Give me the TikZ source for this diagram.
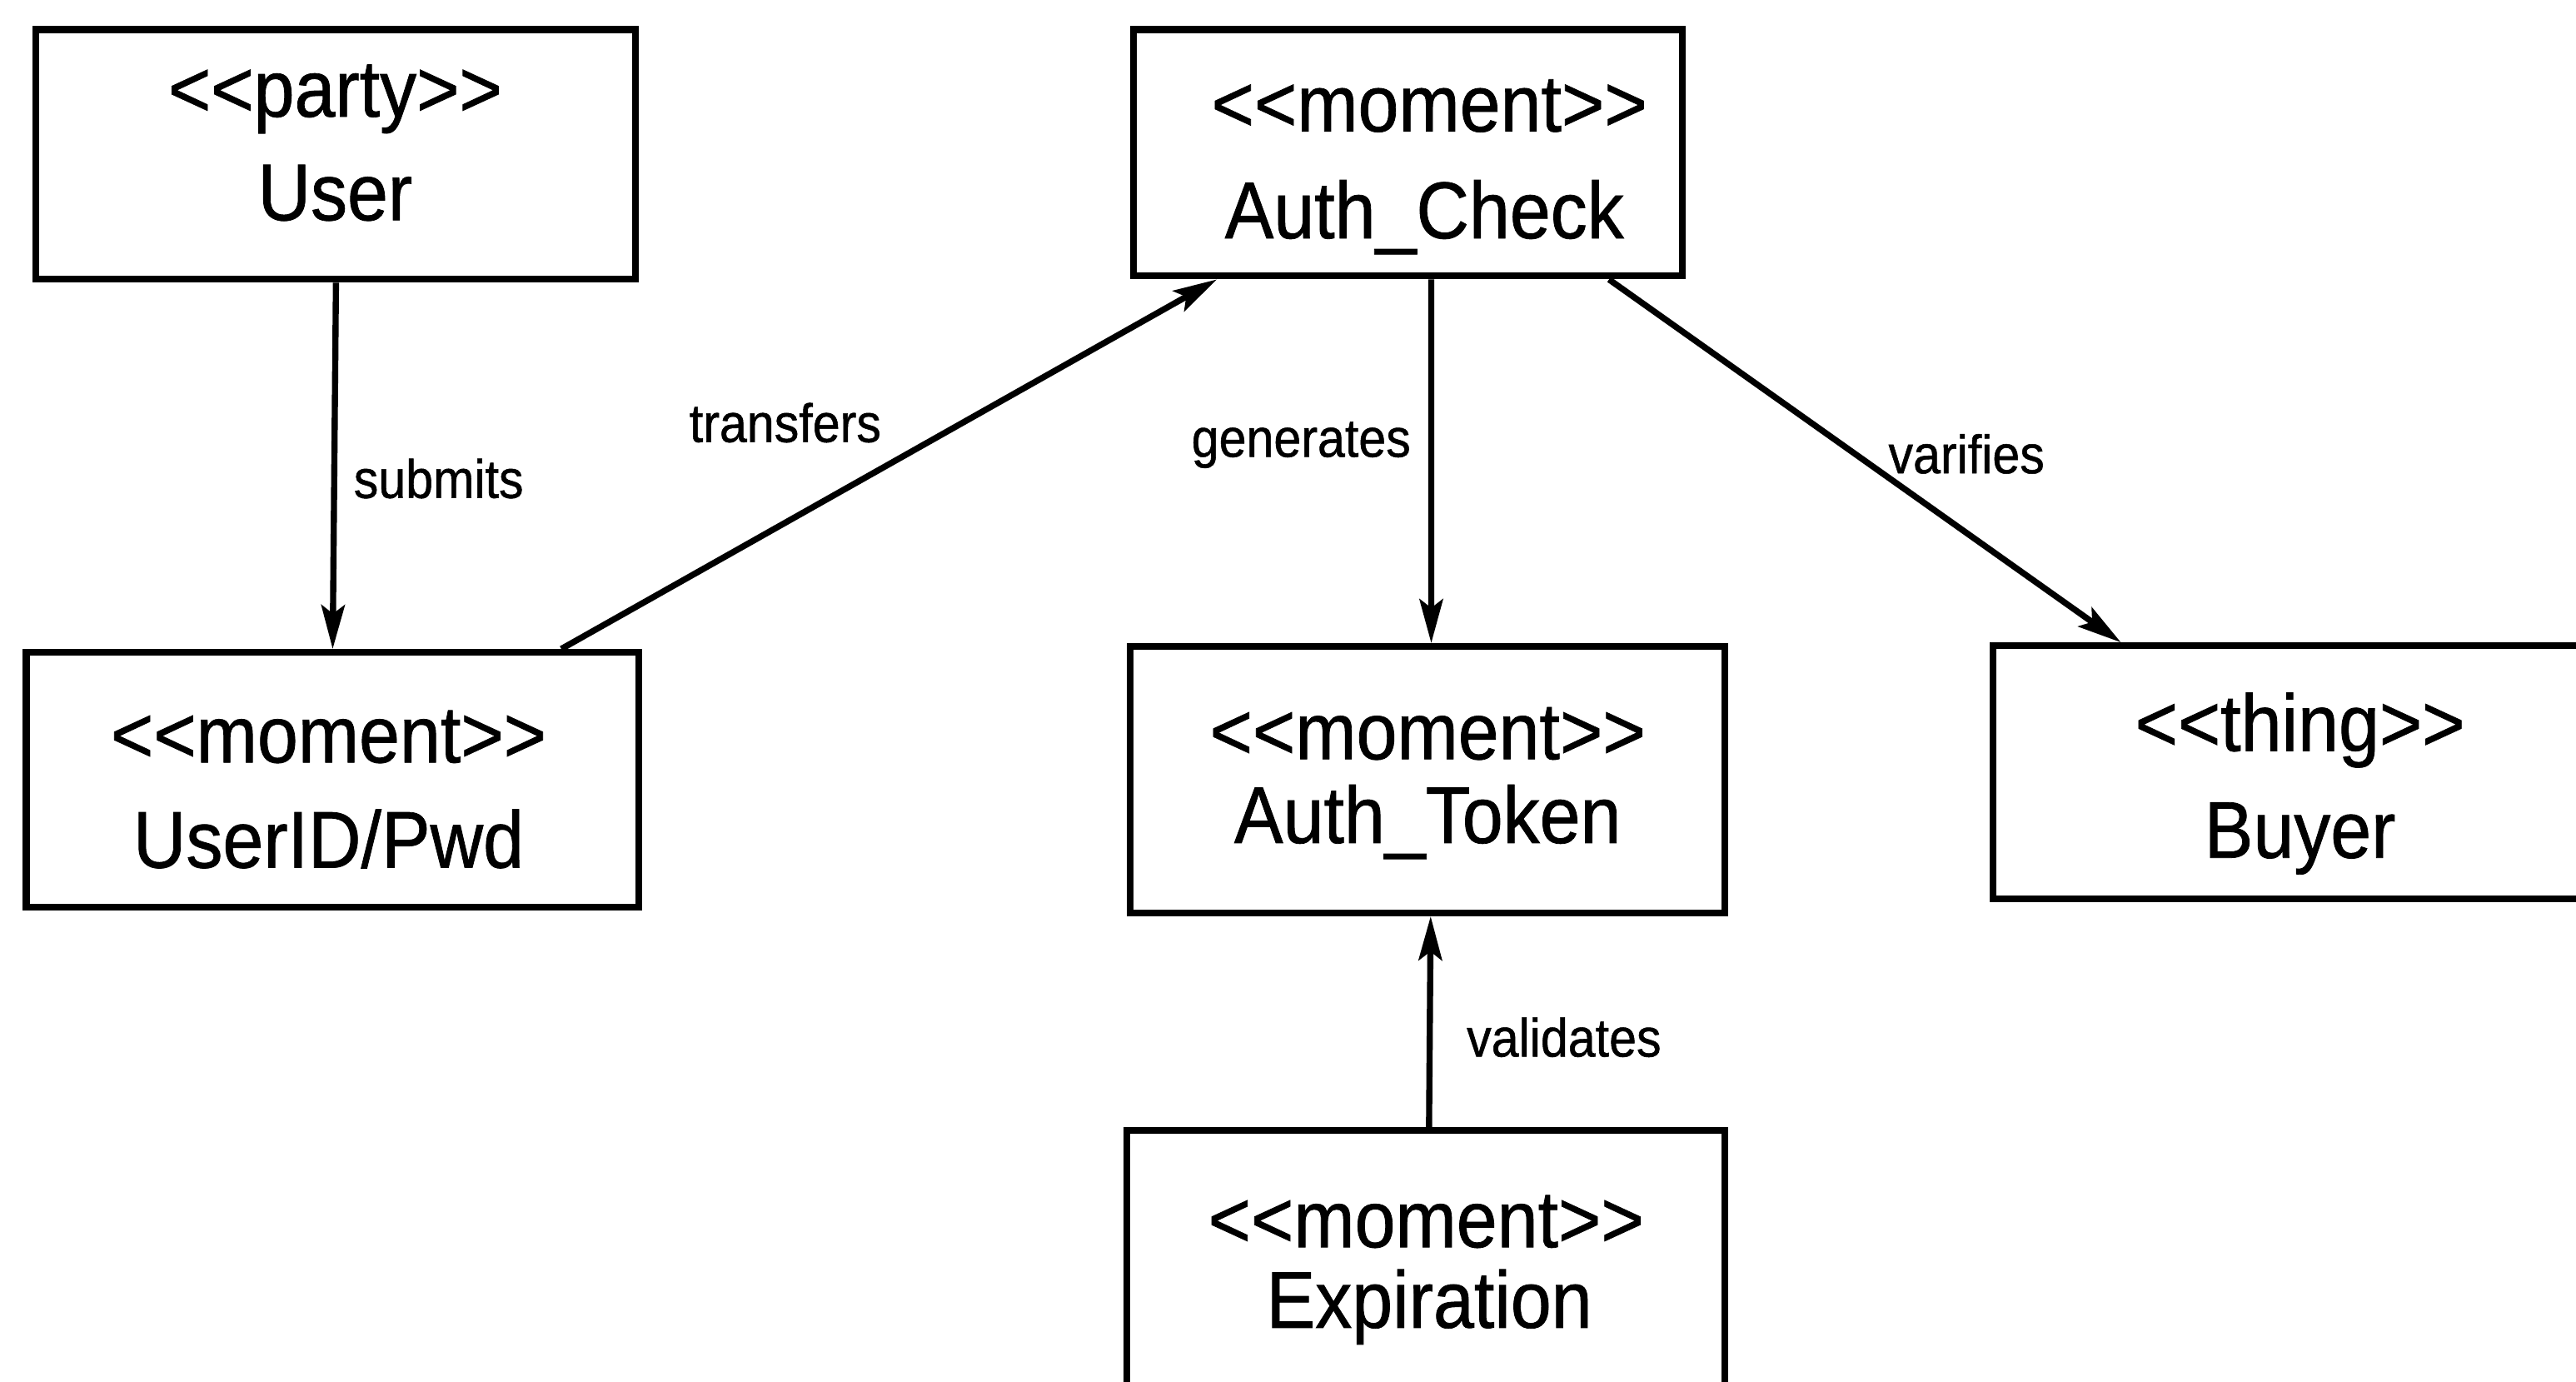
\documentclass[tikz,border=0pt]{standalone}
\usepackage{fontspec}
\setmainfont{Liberation Sans}
\newfontfamily\boxfont{Liberation Sans}[FakeStretch=0.91,FakeBold=0.8]
\usetikzlibrary{calc,arrows.meta}
\newcommand{\stereo}[1]{<\kern0pt<#1>\kern0pt>}
\tikzset{
  umlbox/.style={draw, line width=2.3pt, rectangle, inner sep=0pt},
  boxtext/.style={anchor=base, inner sep=0pt, font=\boxfont\fontsize{27.5}{30}\selectfont},
  rel/.style={line width=2.1pt, -{Stealth[length=15pt,width=8pt,inset=3pt]}},
  rellabel/.style={anchor=base, inner sep=0pt, font=\boxfont\fontsize{18.5}{21}\selectfont}
}
\begin{document}
\begin{tikzpicture}[x=0.019726cm, y=-0.019726cm]
\useasboundingbox (0,0) rectangle (1568,841);
\fill[white] (0,0) rectangle (1568,841);

% boxes
\node[umlbox, minimum width=7.20cm, minimum height=3.00cm] (user) at (204.5,94) {};
\node[umlbox, minimum width=6.59cm, minimum height=2.96cm] (check) at (857,93) {};
\node[umlbox, minimum width=7.36cm, minimum height=3.06cm] (uid) at (202.5,474.5) {};
\node[umlbox, minimum width=7.14cm, minimum height=3.20cm] (token) at (869,474.5) {};
\node[umlbox, minimum width=7.50cm, minimum height=3.04cm] (buyer) at (1403,470) {};
\node[umlbox, minimum width=7.18cm, minimum height=3.16cm] (expir) at (868,768) {};

% box texts
\node[boxtext] (user-s) at (204,71) {\stereo{party}};
\node[boxtext] (user-n) at (204,134) {User};
\node[boxtext] (check-s) at (870,80) {\stereo{moment}};
\node[boxtext] (check-n) at (867,145) {Auth\_Check};
\node[boxtext] (uid-s) at (200,464) {\stereo{moment}};
\node[boxtext] (uid-n) at (200,528) {UserID/Pwd};
\node[boxtext] (token-s) at (869,462) {\stereo{moment}};
\node[boxtext] (token-n) at (869,513) {Auth\_Token};
\node[boxtext] (buyer-s) at (1400,457) {\stereo{thing}};
\node[boxtext] (buyer-n) at (1400,522) {Buyer};
\node[boxtext] (expir-s) at (868,759) {\stereo{moment}};
\node[boxtext] (expir-n) at (870,808) {Expiration};

% connectors
\draw[rel] (user.south) -- (uid.north);
\draw[rel] ($(uid.north west)!0.869!(uid.north east)$) -- ($(check.south west)!0.156!(check.south east)$);
\draw[rel] ($(check.south west)!0.542!(check.south east)$) -- ($(token.north west)!0.506!(token.north east)$);
\draw[rel] ($(check.south west)!0.862!(check.south east)$) -- ([xshift=1.58cm]buyer.north west);
\draw[rel] ($(expir.north west)!0.505!(expir.north east)$) -- ($(token.south west)!0.505!(token.south east)$);

% connector labels
\node[rellabel] (lsub) at (267,303) {submits};
\node[rellabel] (ltra) at (478,269) {transfers};
\node[rellabel] (lgen) at (792,278) {generates};
\node[rellabel] (lvar) at (1197,288) {varifies};
\node[rellabel] (lval) at (952,643) {validates};
\end{tikzpicture}
\end{document}
